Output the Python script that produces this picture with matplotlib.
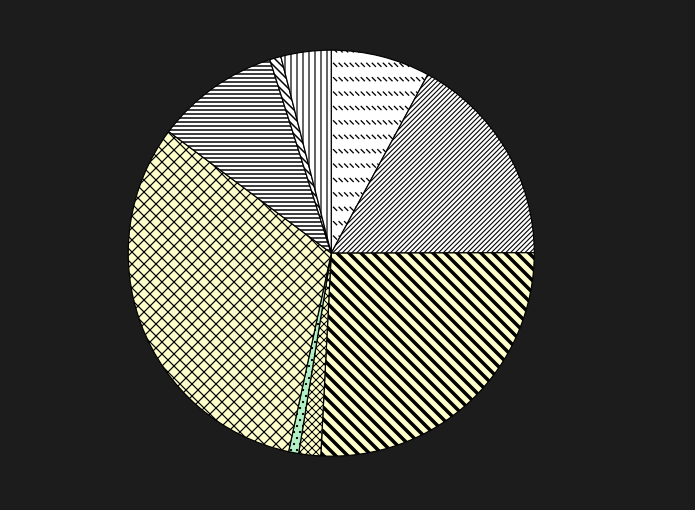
import matplotlib
matplotlib.use("Agg")
import numpy as np
import matplotlib.pyplot as plt
import matplotlib.hatch as mhatch
from matplotlib.path import Path

labels = ["A", "B", "C", "D", "E", "F", "G", "H", "I"]
values = [7.9, 17.1, 25.9, 1.75, 0.8, 31.9, 9.9, 0.9, 4.0]
colors = ["#ffffff", "#ffffff", "#ffffcc", "#ffffcc", "#b0f0c4", "#ffffcc", "#ffffff", "#ffffff", "#ffffff"]
hatches = ["*", "/////", "\\\\", "xxx", "..", "xx", "---", "\\\\\\", "||"]
hatch_lw = [1.3, 1.1, 3.5, 1.0, 1.0, 1.2, 1.5, 1.5, 1.2]


class DashRows(mhatch.HatchPatternBase):
    """Rows of short diagonal dashes (replaces the '*' pattern)."""
    def __init__(self, hatch, density):
        n = hatch.count('*')
        self.rows = 5 * n
        self.cols = 13 * n
        self.num_vertices = self.rows * self.cols * 2

    def set_vertices_and_codes(self, vertices, codes):
        d = 0.022
        k = 0
        for r in range(self.rows):
            y = (r + 0.5) / self.rows
            for c in range(self.cols):
                x = (c + 0.5) / self.cols
                vertices[k] = (x - d, y + d)
                vertices[k + 1] = (x + d, y - d)
                codes[k] = Path.MOVETO
                codes[k + 1] = Path.LINETO
                k += 2


mhatch._hatch_types[:] = [t for t in mhatch._hatch_types if t is not mhatch.Stars] + [DashRows]

plt.rcParams['hatch.linewidth'] = 1.0
plt.rcParams['hatch.color'] = "black"
DPI = 72
fig = plt.figure(figsize=(695 / DPI, 510 / DPI), dpi=DPI, facecolor="#1c1c1c")
ax = fig.add_axes([0, 0, 1, 1])
ax.set_facecolor("#1c1c1c")
wedges, _ = ax.pie(values, colors=colors, startangle=90, counterclock=False,
                   wedgeprops=dict(edgecolor="black", linewidth=1.2),
                   center=(0, 0), radius=1)
for w, h, lw in zip(wedges, hatches, hatch_lw):
    w.set_hatch(h)
    try:
        w.set_hatch_linewidth(lw)
    except AttributeError:
        pass
ax.set_xlim(-1.63, 1.79)
ax.set_ylim(-1.265, 1.247)
ax.set_aspect("equal")
ax.axis("off")
fig.savefig("out.png", dpi=DPI, facecolor=fig.get_facecolor())
